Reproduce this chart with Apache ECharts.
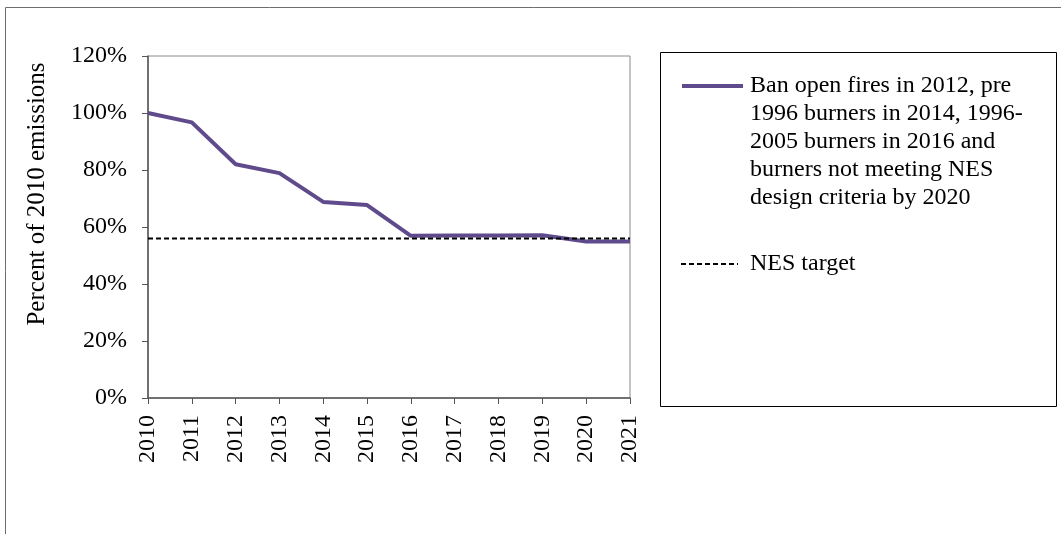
<!DOCTYPE html>
<html><head><meta charset="utf-8">
<script src="https://cdn.jsdelivr.net/npm/echarts@6/dist/echarts.min.js"></script>
<style>html,body{margin:0;padding:0;background:#fff}#c{width:1061px;height:534px}</style>
</head><body><div id="c"></div>
<script>
const years = ['2010','2011','2012','2013','2014','2015','2016','2017','2018','2019','2020','2021'];
const banValues = [100, 96.7, 82.0, 78.9, 68.8, 67.7, 56.9, 57.0, 57.0, 57.1, 54.9, 54.9];
const nesTarget = [56, 56, 56, 56, 56, 56, 56, 56, 56, 56, 56, 56];
const yTicks = [0, 20, 40, 60, 80, 100, 120];
const banName = 'Ban open fires in 2012, pre\n1996 burners in 2014, 1996-\n2005 burners in 2016 and\nburners not meeting NES\ndesign criteria by 2020';
const nesName = 'NES target';

const FONT = 'Liberation Serif';
const chart = echarts.init(document.getElementById('c'), null, {renderer: 'canvas'});
chart.setOption({
  animation: false,
  backgroundColor: '#fff',
  textStyle: {fontFamily: FONT},
  grid: {left: 148, top: 56, right: 431, bottom: 136, show: true, borderColor: '#8a8a8a', borderWidth: 1, containLabel: false},
  xAxis: {
    type: 'category', data: years, boundaryGap: false,
    axisLine: {lineStyle: {color: '#555', width: 1.5}},
    axisTick: {show: true, inside: false, length: 6, alignWithLabel: true, lineStyle: {color: '#555'}},
    axisLabel: {rotate: 90, margin: 17, color: '#000', fontFamily: FONT, fontSize: 24}
  },
  yAxis: {
    type: 'value', min: yTicks[0], max: yTicks[yTicks.length - 1], interval: 20,
    splitLine: {show: false},
    axisLine: {show: true, lineStyle: {color: '#555', width: 1.5}},
    axisTick: {show: true, inside: false, length: 6, lineStyle: {color: '#555'}},
    axisLabel: {formatter: '{value}%', margin: 21, color: '#000', fontFamily: FONT, fontSize: 24}
  },
  legend: [
    {
      data: [banName], left: 680, top: -40, padding: 0, orient: 'vertical',
      itemWidth: 61, itemHeight: 14,
      formatter: function (n) { return '\n\n\n\n' + n; },
      itemStyle: {opacity: 0},
      lineStyle: {width: 4, color: '#5f4b8b'},
      textStyle: {fontFamily: FONT, fontSize: 24, lineHeight: 28, color: '#000', padding: [0, 0, 0, 2]}
    },
    {
      data: [nesName], left: 680, top: 250, padding: 0,
      itemWidth: 57, itemHeight: 28,
      itemStyle: {opacity: 0},
      lineStyle: {width: 2, type: [5, 3], color: '#000'},
      textStyle: {fontFamily: FONT, fontSize: 24, lineHeight: 28, color: '#000', padding: [0, 0, 0, 7]}
    }
  ],
  series: [
    {
      name: banName, type: 'line', data: banValues, symbol: 'none', showSymbol: false,
      lineStyle: {color: '#5f4b8b', width: 4}, itemStyle: {color: '#5f4b8b'}
    },
    {
      name: nesName, type: 'line', data: nesTarget, symbol: 'none', showSymbol: false, z: 3,
      lineStyle: {color: '#000', width: 2, type: [5, 3]}, itemStyle: {color: '#000'}
    }
  ],
  graphic: [
    {type: 'rect', shape: {x: 5.5, y: 7.5, width: 1200, height: 700}, style: {fill: 'none', stroke: '#6e6e6e', lineWidth: 1}, silent: true},
    {type: 'rect', shape: {x: 660.5, y: 52.5, width: 396, height: 354}, style: {fill: 'none', stroke: '#000', lineWidth: 1}, silent: true},
    {type: 'text', x: 37, y: 194, rotation: Math.PI / 2,
     style: {text: 'Percent of 2010 emissions', fontFamily: FONT, fontSize: 25, fill: '#000', align: 'center', verticalAlign: 'middle'}}
  ]
});
</script></body></html>
